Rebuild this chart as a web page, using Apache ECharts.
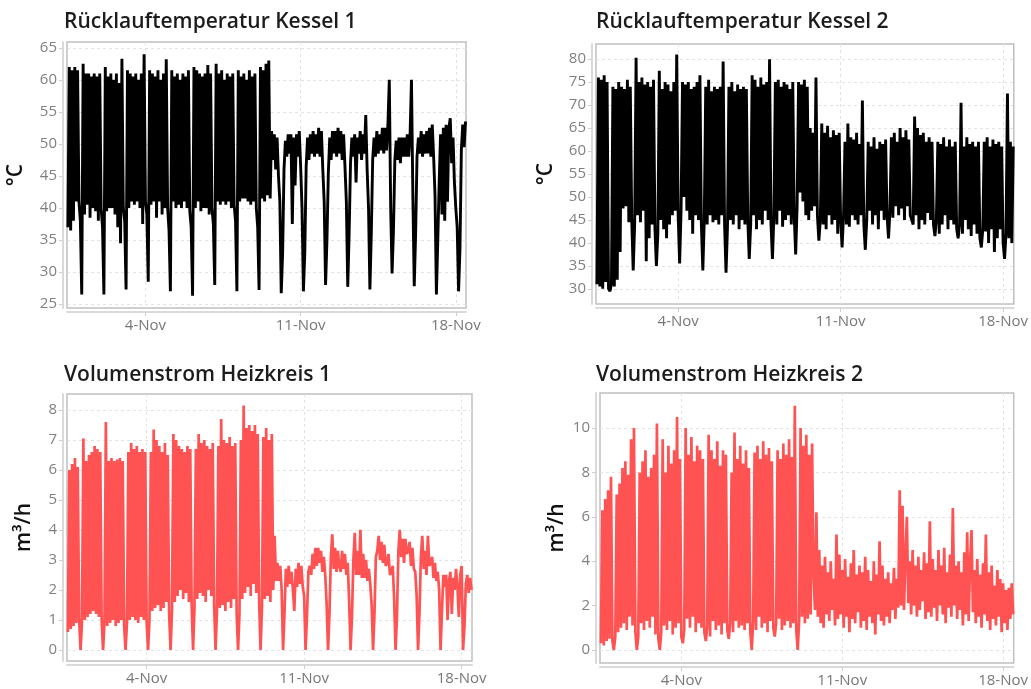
<!DOCTYPE html>
<html>
<head>
<meta charset="utf-8">
<script src="https://cdn.jsdelivr.net/npm/echarts@6/dist/echarts.min.js"></script>
<style>
html,body{margin:0;padding:0;background:#fff;}
#chart{width:1031px;height:689px;}
</style>
</head>
<body>
<div id="chart"></div>
<script>
// ---- time grid: samples every 1.5 h, x = days since 31-Oct 00:00 ----
const START_DAY = 0.5;
const STEP_DAY = 1 / 16;

// ---- tick labels ----
const xTickDays = [4, 11, 18];
const xTickLabels = ['4-Nov', '11-Nov', '18-Nov'];
const yTicksK1 = [25, 30, 35, 40, 45, 50, 55, 60, 65];
const yTicksK2 = [30, 35, 40, 45, 50, 55, 60, 65, 70, 75, 80];
const yTicksH1 = [0, 1, 2, 3, 4, 5, 6, 7, 8];
const yTicksH2 = [0, 2, 4, 6, 8, 10];

const titles = ['Rücklauftemperatur Kessel 1', 'Rücklauftemperatur Kessel 2',
                'Volumenstrom Heizkreis 1', 'Volumenstrom Heizkreis 2'];
const units = ['°C', '°C', 'm³/h', 'm³/h'];

// ---- Rücklauftemperatur Kessel 1 (°C) ----
const kessel1 = [
  37, 62, 36.5, 61.5, 38, 62, 41, 61.5,
  41, 38, 26.5, 62.5, 39, 61, 40.5, 61, 38.5, 60.5, 40, 61, 39.5, 60.5, 38, 61,
  40, 37, 26.5, 62, 39.5, 60.5, 40, 61, 40, 60, 39, 61, 37, 59.5, 34.5, 63.3,
  40, 38, 27.3, 61.5, 40, 61, 41, 60.5, 40.5, 61, 41, 60, 40, 61, 37.5, 64,
  41, 39, 28.5, 61.5, 40.5, 61, 41, 60.5, 38.5, 61.5, 41, 60, 39, 61, 40, 63.2,
  40, 36.5, 27, 61.5, 41, 60.5, 40, 61, 40.5, 60, 40, 61, 41, 60.5, 40, 61.5,
  39.5, 37, 26.3, 62, 40, 61.5, 41, 61, 39.5, 60.5, 40, 61, 40, 62.3, 39, 61,
  40, 37.5, 28, 62.5, 41, 61, 40.5, 61.5, 41, 60, 40.5, 61, 41, 60.5, 40, 61,
  40.5, 38, 27, 61.5, 41, 60.5, 41.5, 61, 41.5, 60, 41, 61.5, 40.5, 60.5, 41, 61,
  40, 37, 27.2, 62, 41.5, 61.5, 41, 62.5, 42, 63, 41.5, 52, 47.5, 51.5, 46, 51,
  45, 41, 26.7, 33, 46, 50.5, 48, 51.5, 48.5, 51.5, 37.5, 51, 43.5, 51.5, 48, 52,
  46.5, 40, 27, 33, 46.5, 51, 47.5, 51.5, 48.5, 52, 48, 51.5, 48.5, 52.5, 48, 52,
  46, 41, 28, 35, 45.5, 51, 47.5, 52, 48.5, 52, 48, 52.5, 48.5, 52, 47.5, 51.5,
  46.5, 41, 27.7, 36, 47, 51, 48, 51.5, 44, 51, 48.5, 52, 47.5, 51.5, 48.5, 54.5,
  46, 40, 27.3, 36, 47.5, 51, 48, 52, 48.5, 51.5, 49, 52.5, 48.5, 52.5, 49, 53,
  60, 40, 29.8, 36.5, 47.5, 50.5, 47.5, 51, 47, 51, 48, 51, 48, 51.5, 48, 51.5,
  60, 42, 27.8, 36, 48, 51, 48.5, 52, 48, 51.5, 48.5, 52, 48.5, 52.5, 48, 53,
  48, 42, 26.5, 35, 44, 51.5, 39, 52.5, 38, 53, 41, 52.5, 54, 47, 51, 44,
  40, 37, 27, 33.5, 49, 53, 49.5, 53.5
];

// ---- Rücklauftemperatur Kessel 2 (°C) ----
const kessel2 = [
  31, 76, 30.5, 75.5, 30, 76.5, 31.5, 75,
  30, 29.5, 31, 74, 30.5, 73.5, 32, 75, 38, 74, 47.5, 73.5, 48, 75.5, 44.5, 74,
  45, 34, 44, 80.3, 46, 75, 44.5, 76, 47, 74.5, 36, 75, 41, 74, 44, 75.5,
  43, 35, 42, 77.5, 45, 73.5, 43, 75, 41, 74.5, 44, 73, 46, 75, 47, 81,
  46, 35.5, 47, 75, 50, 74.5, 47, 75, 45, 73.5, 42, 74, 46, 75, 45, 76.5,
  44, 34, 45, 74, 44, 75.5, 46, 73, 44.5, 74, 45, 73.5, 44, 74, 46, 79.5,
  44, 33.5, 43.5, 74, 45, 75, 44, 73, 46, 74.5, 43, 73.5, 45, 74, 44, 73.5,
  45, 36.5, 44, 76.5, 46, 75.5, 43, 74, 45, 76, 44, 74.5, 47, 75, 45, 80,
  44, 36.5, 46, 75, 44, 75.5, 47, 74, 43.5, 75, 45, 74.5, 46, 73.5, 44, 75,
  46, 37.5, 48, 75, 51, 74.5, 49, 75.5, 46, 74, 45, 65, 47, 64, 48, 76,
  46, 40.5, 45, 66, 44, 64, 43, 65.5, 46, 63, 44, 64.5, 45, 63.5, 42, 64,
  45, 39, 46, 62, 44, 66, 43.5, 63, 46, 62.5, 45, 64, 44, 61.5, 46, 71,
  44, 38.5, 45, 62, 47, 61, 44, 63, 46, 60.5, 43, 62, 47, 61.5, 45, 62.5,
  46, 41, 47, 63, 45.5, 64, 48, 62, 46, 65, 47.5, 63, 45, 64.5, 48, 62.5,
  46, 45, 44, 67.5, 46, 65, 43, 63.5, 45, 64, 44, 62, 46.5, 63, 45, 62,
  44, 41.5, 45, 62, 42, 61.5, 44, 63, 46, 61, 43, 62.5, 45, 61, 44, 62,
  43, 41, 44, 70.5, 42, 61, 45, 63, 43, 61.5, 41.5, 62, 44, 61, 42, 62,
  41, 39, 43, 62, 42.5, 63, 40, 61, 43, 62.5, 38, 61.5, 41, 62, 43, 61,
  40, 36.5, 42, 72.5, 41, 62, 40, 61
];

// ---- Volumenstrom Heizkreis 1 (m³/h) ----
const heizkreis1 = [
  0.6, 6.0, 0.7, 6.2, 0.8, 6.4, 0.9, 6.1,
  1.0, 0, 0.9, 7.05, 1.0, 6.3, 1.1, 6.5, 1.2, 6.6, 1.3, 6.8, 1.2, 6.7, 1.1, 6.6,
  1.0, 0, 0.9, 7.6, 0.8, 6.3, 0.9, 6.4, 1.0, 6.3, 0.8, 6.35, 0.9, 6.4, 1.0, 6.3,
  0.8, 0, 0.9, 6.6, 1.0, 6.9, 1.1, 6.7, 1.0, 6.8, 0.9, 6.6, 1.1, 6.7, 1.0, 6.6,
  0.9, 0, 1.0, 6.6, 1.3, 7.35, 1.4, 7.0, 1.5, 6.8, 1.3, 6.6, 1.4, 6.9, 1.6, 6.5,
  1.2, 0, 1.3, 7.2, 1.6, 7.0, 1.8, 6.8, 2.0, 6.7, 1.7, 6.6, 1.9, 6.8, 1.6, 6.7,
  1.5, 0, 1.4, 6.7, 1.7, 7.2, 1.9, 6.9, 1.8, 7.0, 1.6, 6.8, 2.0, 6.7, 1.8, 6.9,
  1.5, 0, 1.3, 6.8, 1.4, 7.7, 1.5, 7.0, 1.3, 6.9, 1.6, 7.1, 1.4, 6.8, 1.7, 6.9,
  1.2, 0, 1.2, 7.0, 1.7, 8.15, 1.9, 7.4, 2.1, 7.5, 1.8, 7.3, 2.2, 7.5, 1.9, 7.2,
  1.6, 0, 1.4, 7.1, 1.7, 7.4, 1.8, 7.0, 1.6, 7.2, 2.0, 3.8, 2.3, 2.9, 2.3, 2.8,
  2.0, 0, 1.2, 2.7, 2.1, 2.8, 2.2, 2.6, 2.0, 1.3, 2.7, 2.1, 2.9, 2.2, 2.8, 2.1,
  1.8, 0, 1.1, 2.6, 2.8, 2.5, 3.2, 2.7, 3.4, 2.8, 3.4, 2.9, 3.3, 2.6, 3.1, 2.5,
  1.5, 0, 1.2, 3.1, 3.85, 2.7, 3.4, 2.6, 3.3, 2.8, 2.6, 3.3, 2.7, 3.2, 2.5, 2.9,
  1.6, 0, 1.1, 3.0, 3.9, 2.5, 3.3, 2.5, 4.0, 2.4, 3.2, 2.4, 3.0, 2.3, 2.7, 2.2,
  1.5, 0, 1.2, 3.1, 3.3, 3.8, 3.0, 3.6, 2.9, 3.5, 2.8, 2.9, 3.2, 2.5, 2.6, 2.8,
  1.7, 0, 1.1, 3.3, 4.0, 3.1, 3.7, 2.9, 3.7, 3.2, 3.3, 3.6, 2.8, 3.4, 2.7, 2.6,
  1.8, 0, 1.2, 3.1, 3.8, 2.7, 3.3, 2.5, 3.8, 2.8, 2.9, 3.1, 2.4, 2.9, 2.3, 2.6,
  2.0, 0, 1.3, 2.5, 2.1, 2.5, 1.0, 2.3, 2.6, 1.2, 2.4, 2.0, 2.7, 2.1, 1.1, 2.5,
  2.8, 0, 0.8, 2.2, 2.5, 1.9, 2.4, 2.0
];

// ---- Volumenstrom Heizkreis 2 (m³/h) ----
const heizkreis2 = [
  0.3, 6.3, 0.2, 6.8, 0.4, 7.2, 0.5, 7.8,
  0.4, 0, 0.6, 7.0, 0.8, 7.5, 1.0, 8.2, 1.2, 8.5, 0.9, 7.9, 1.5, 9.5, 1.1, 10.0,
  0.8, 0, 0.6, 8.0, 1.2, 8.5, 0.9, 9.0, 1.3, 7.8, 1.0, 8.2, 1.5, 8.8, 0.7, 10.2,
  0.5, 0, 0.8, 9.5, 1.1, 8.0, 0.9, 9.2, 1.3, 8.4, 0.7, 9.0, 1.0, 10.5, 1.2, 8.6,
  0.6, 0.3, 0.9, 10.0, 1.4, 8.8, 1.0, 9.6, 1.5, 8.5, 0.8, 9.2, 1.2, 9.0, 1.0, 8.6,
  0.8, 0.4, 1.0, 9.7, 0.6, 9.0, 1.3, 8.6, 0.9, 9.4, 1.1, 8.3, 0.7, 9.0, 1.2, 8.8,
  0.9, 0.5, 1.2, 8.0, 0.8, 9.8, 1.3, 8.6, 1.0, 9.2, 1.1, 8.4, 0.9, 9.0, 1.2, 8.2,
  0.8, 0, 1.3, 8.9, 0.9, 9.2, 1.5, 8.6, 1.0, 9.4, 1.2, 8.8, 0.8, 9.1, 1.3, 8.5,
  1.0, 0.6, 1.2, 9.0, 1.4, 8.6, 0.9, 9.3, 1.1, 8.8, 1.3, 9.5, 1.0, 8.7, 1.2, 11.0,
  0.9, 0, 1.3, 10.0, 1.5, 9.2, 1.2, 9.7, 1.4, 8.8, 1.6, 9.3, 3.5, 1.8, 6.2, 1.5,
  4.5, 1.2, 3.8, 1.0, 4.2, 1.6, 3.5, 1.3, 4.0, 1.8, 3.2, 1.1, 5.2, 1.4, 4.3, 1.6,
  3.6, 1.0, 4.1, 1.5, 3.3, 0.8, 3.9, 1.4, 4.5, 1.2, 3.4, 1.7, 3.8, 1.0, 3.5, 1.3,
  4.2, 0.9, 3.6, 1.5, 3.1, 1.2, 4.0, 0.7, 3.4, 1.6, 4.9, 1.3, 3.8, 1.1, 3.2, 1.5,
  3.5, 1.2, 3.0, 1.8, 3.7, 1.4, 3.2, 1.9, 7.2, 2.0, 6.5, 1.8, 4.2, 6.0, 2.1, 4.0,
  1.6, 4.5, 2.0, 3.8, 1.5, 4.2, 1.8, 3.6, 2.2, 4.4, 1.4, 3.9, 1.7, 5.8, 1.5, 4.1,
  1.9, 3.6, 1.3, 4.5, 2.0, 3.8, 1.6, 4.6, 1.2, 3.5, 1.9, 4.3, 1.5, 6.4, 2.0, 3.8,
  1.4, 4.0, 1.8, 3.5, 1.1, 4.4, 1.6, 5.3, 1.3, 3.9, 5.4, 1.7, 3.6, 1.2, 4.1, 1.5,
  3.4, 1.0, 3.9, 1.6, 5.2, 1.3, 3.5, 0.9, 3.8, 1.4, 2.9, 1.1, 3.6, 1.5, 3.2, 0.8,
  3.0, 1.2, 2.7, 0.9, 2.8, 1.4, 3.0, 1.6
];

// ---------------- layout / style ----------------
const FONT = '"Open Sans", "Noto Sans", sans-serif';
const panels = [
  { data: kessel1,    ticks: yTicksK1, min: 24.4, max: 65.9,  color: '#000000', width: 2.9,
    grid: { left: 67,  top: 42,  width: 399, height: 266 }, title: { left: 64,  top: 12 },  nameGap: 36 },
  { data: kessel2,    ticks: yTicksK2, min: 26.7, max: 83.3,  color: '#000000', width: 2.9,
    grid: { left: 596, top: 44,  width: 423, height: 260 }, title: { left: 596, top: 12 },  nameGap: 35 },
  { data: heizkreis1, ticks: yTicksH1, min: -0.37, max: 8.53, color: '#ff5252', width: 2.7,
    grid: { left: 67,  top: 394, width: 405, height: 267 }, title: { left: 64,  top: 365 }, nameGap: 28 },
  { data: heizkreis2, ticks: yTicksH2, min: -0.59, max: 11.58, color: '#ff5252', width: 2.7,
    grid: { left: 600, top: 393, width: 419, height: 270 }, title: { left: 596, top: 365 }, nameGap: 28 }
];

function xLabel(v) {
  for (let i = 0; i < xTickDays.length; i++) if (Math.abs(xTickDays[i] - v) < 1e-6) return xTickLabels[i];
  return '';
}
function toPairs(vals) { return vals.map((v, i) => [START_DAY + i * STEP_DAY, v]); }

const option = {
  animation: false,
  backgroundColor: '#ffffff',
  textStyle: { fontFamily: FONT },
  title: panels.map((p, i) => ({
    text: titles[i], left: p.title.left, top: p.title.top, padding: 0,
    textStyle: { fontFamily: FONT, fontSize: 21, fontWeight: 600, color: '#1c1c1c' }
  })),
  grid: panels.map(p => ({
    left: p.grid.left, top: p.grid.top, width: p.grid.width, height: p.grid.height,
    show: true, borderColor: '#c0c0c0', borderWidth: 1.5, backgroundColor: 'transparent',
    containLabel: false
  })),
  xAxis: panels.map((p, i) => ({
    type: 'value', gridIndex: i, min: 0.46, max: 18.46, offset: 4,
    axisLine: { show: true, onZero: false, lineStyle: { color: '#dadada', width: 2 } },
    axisTick: { show: true, customValues: xTickDays, length: 4, lineStyle: { color: '#cfcfcf' } },
    axisLabel: { customValues: xTickDays, formatter: xLabel, color: '#777777', fontSize: 15, margin: 6, fontFamily: FONT },
    splitLine: { show: true, lineStyle: { type: [3, 3], color: '#e3e3e3', width: 1 } }
  })),
  yAxis: panels.map((p, i) => ({
    type: 'value', gridIndex: i, min: p.min, max: p.max, offset: 4,
    name: units[i], nameLocation: 'middle', nameRotate: 90, nameGap: p.nameGap,
    nameTextStyle: { fontSize: 21, color: '#111111', fontFamily: FONT, fontWeight: 600 },
    axisLine: { show: true, onZero: false, lineStyle: { color: '#dadada', width: 2 } },
    axisTick: { show: true, customValues: p.ticks, length: 4, lineStyle: { color: '#cfcfcf' } },
    axisLabel: { customValues: p.ticks, color: '#808080', fontSize: 15, margin: 6, fontFamily: FONT },
    splitLine: { show: true, lineStyle: { type: [3, 3], color: '#e3e3e3', width: 1 } }
  })),
  series: panels.map((p, i) => ({
    type: 'line', xAxisIndex: i, yAxisIndex: i, data: toPairs(p.data),
    showSymbol: false, symbol: 'none', sampling: null, clip: true,
    lineStyle: { color: p.color, width: p.width, join: 'bevel' }, itemStyle: { color: p.color }
  }))
};

const chart = echarts.init(document.getElementById('chart'), null, { renderer: 'canvas' });
chart.setOption(option);
</script>
</body>
</html>
